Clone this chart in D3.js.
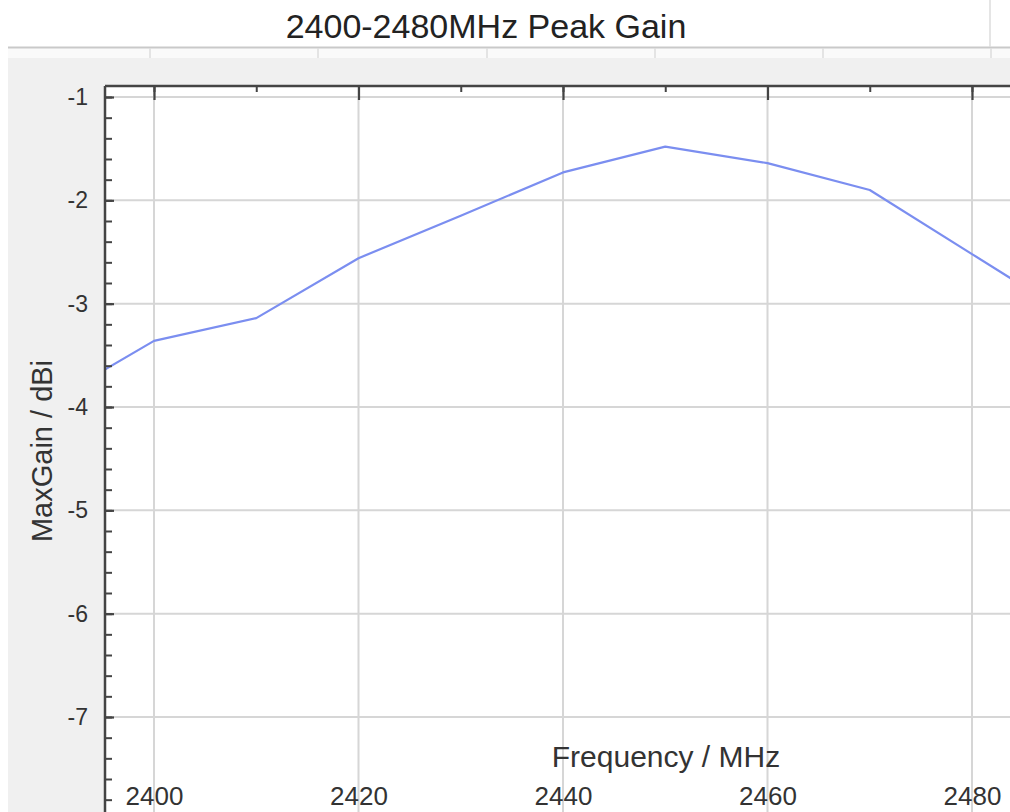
<!DOCTYPE html>
<html>
<head>
<meta charset="utf-8">
<script src="https://cdn.jsdelivr.net/npm/d3@7/dist/d3.min.js"></script>
<style>
  html, body { margin: 0; padding: 0; background: #ffffff; }
  svg { display: block; }
  text { font-family: "Liberation Sans", Arial, sans-serif; }
</style>
</head>
<body>
<svg id="chart" width="1010" height="812"></svg>
<script>
// ---- data ----
const titleText = "2400-2480MHz Peak Gain";
const xTitle = "Frequency / MHz";
const yTitle = "MaxGain / dBi";
const frequencies = [2395, 2400, 2410, 2420, 2430, 2440, 2450, 2460, 2470, 2480, 2485];
const maxGain = [-3.65, -3.36, -3.14, -2.56, -2.15, -1.73, -1.48, -1.64, -1.90, -2.52, -2.83];
const xMajorTicks = [2400, 2420, 2440, 2460, 2480];
const xMinorTicks = [2400, 2410, 2420, 2430, 2440, 2450, 2460, 2470, 2480];
const yMajorTicks = [-1, -2, -3, -4, -5, -6, -7];
const yMinorTicks = d3.range(-1, -7.81, -0.2).map(v => +v.toFixed(1));
const headerCols = [150, 318, 487, 655, 823, 991];

// ---- layout ----
const W = 1010, H = 812;
const plot = { left: 105, top: 86, right: 1010, bottom: 812 };
const svg = d3.select("#chart");

const x = d3.scaleLinear().domain([2400, 2480]).range([154, 972]);
const y = d3.scaleLinear().domain([-1, -7]).range([97, 717]);

// backgrounds
svg.append("rect").attr("x", 0).attr("y", 0).attr("width", W).attr("height", H).attr("fill", "#ffffff");
svg.append("rect").attr("x", 8).attr("y", 47).attr("width", W - 8).attr("height", H - 47).attr("fill", "#f0f0f0");
svg.append("rect").attr("x", 8).attr("y", 48).attr("width", W - 8).attr("height", 10).attr("fill", "#fafafa");
svg.append("line").attr("x1", 8).attr("x2", W).attr("y1", 47.5).attr("y2", 47.5)
  .attr("stroke", "#c9c9c9").attr("stroke-width", 2);
svg.selectAll("line.hdr").data(headerCols).join("line").attr("class", "hdr")
  .attr("x1", d => d).attr("x2", d => d).attr("y1", 48).attr("y2", 58)
  .attr("stroke", "#dcdcdc").attr("stroke-width", 1.5);
svg.append("line").attr("x1", 990).attr("x2", 990).attr("y1", 0).attr("y2", 47)
  .attr("stroke", "#dddddd").attr("stroke-width", 1.5);

// plot area
svg.append("rect").attr("x", plot.left).attr("y", plot.top)
  .attr("width", plot.right - plot.left).attr("height", plot.bottom - plot.top).attr("fill", "#ffffff");

// title
svg.append("text").attr("x", 486).attr("y", 38).attr("text-anchor", "middle")
  .attr("font-size", 34).attr("fill", "#222").text(titleText);

// gridlines
svg.append("g").selectAll("line").data(yMajorTicks).join("line")
  .attr("x1", plot.left).attr("x2", plot.right)
  .attr("y1", d => y(d)).attr("y2", d => y(d))
  .attr("stroke", "#d6d6d6").attr("stroke-width", 2);
svg.append("g").selectAll("line").data(xMajorTicks).join("line")
  .attr("x1", d => x(d)).attr("x2", d => x(d))
  .attr("y1", plot.top).attr("y2", plot.bottom)
  .attr("stroke", "#d6d6d6").attr("stroke-width", 2);

// line
svg.append("clipPath").attr("id", "clip").append("rect")
  .attr("x", plot.left).attr("y", plot.top)
  .attr("width", plot.right - plot.left).attr("height", plot.bottom - plot.top);
const pts = frequencies.map((f, i) => [f, maxGain[i]]);
svg.append("path").datum(pts).attr("clip-path", "url(#clip)")
  .attr("fill", "none").attr("stroke", "#7b8ef0").attr("stroke-width", 2.2)
  .attr("stroke-linejoin", "round")
  .attr("d", d3.line().x(d => x(d[0])).y(d => y(d[1])));

// y axis (minor ticks)
const yMinorG = svg.append("g").attr("transform", `translate(${plot.left},0)`)
  .call(d3.axisLeft(y).tickValues(yMinorTicks).tickSizeInner(-7).tickSizeOuter(0).tickFormat(""));
yMinorG.select(".domain").remove();
yMinorG.selectAll("line").attr("stroke", "#444").attr("stroke-width", 2);

// y axis (major ticks and labels)
const yG = svg.append("g").attr("transform", `translate(${plot.left},0)`)
  .call(d3.axisLeft(y).tickValues(yMajorTicks).tickSizeInner(-9).tickSizeOuter(0).tickPadding(17)
    .tickFormat(d => String(d)));
yG.select(".domain").remove();
yG.selectAll("line").attr("stroke", "#444").attr("stroke-width", 2.2);
yG.selectAll("text").attr("font-size", 23).attr("fill", "#333")
  .attr("font-family", "'Liberation Sans', Arial, sans-serif");

// left axis line
svg.append("line").attr("x1", plot.left).attr("x2", plot.left).attr("y1", plot.top).attr("y2", plot.bottom)
  .attr("stroke", "#444").attr("stroke-width", 2.5);

// top frame with ticks
const xTopMinor = svg.append("g").attr("transform", `translate(0,${plot.top})`)
  .call(d3.axisBottom(x).tickValues(xMinorTicks).tickSizeInner(6).tickSizeOuter(0).tickFormat(""));
xTopMinor.select(".domain").remove();
xTopMinor.selectAll("line").attr("stroke", "#444").attr("stroke-width", 2);
const xTopMajor = svg.append("g").attr("transform", `translate(0,${plot.top})`)
  .call(d3.axisBottom(x).tickValues(xMajorTicks).tickSizeInner(14).tickSizeOuter(0).tickFormat(""));
xTopMajor.select(".domain").remove();
xTopMajor.selectAll("line").attr("stroke", "#444").attr("stroke-width", 2.2);
svg.append("line").attr("x1", plot.left).attr("x2", plot.right).attr("y1", plot.top).attr("y2", plot.top)
  .attr("stroke", "#444").attr("stroke-width", 2.5);

// bottom x labels (inside plot)
const xLab = svg.append("g").attr("transform", `translate(0,${805 + 7})`)
  .call(d3.axisTop(x).tickValues(xMajorTicks).tickSize(0).tickPadding(7).tickFormat(d => String(d)));
xLab.select(".domain").remove();
xLab.selectAll("text").attr("font-size", 26).attr("fill", "#333")
  .attr("font-family", "'Liberation Sans', Arial, sans-serif");

// axis titles
svg.append("text").attr("x", 666).attr("y", 767).attr("text-anchor", "middle")
  .attr("font-size", 30).attr("fill", "#333").text(xTitle);
svg.append("text").attr("transform", "translate(52,451) rotate(-90)").attr("text-anchor", "middle")
  .attr("font-size", 29).attr("fill", "#333").text(yTitle);
</script>
</body>
</html>
